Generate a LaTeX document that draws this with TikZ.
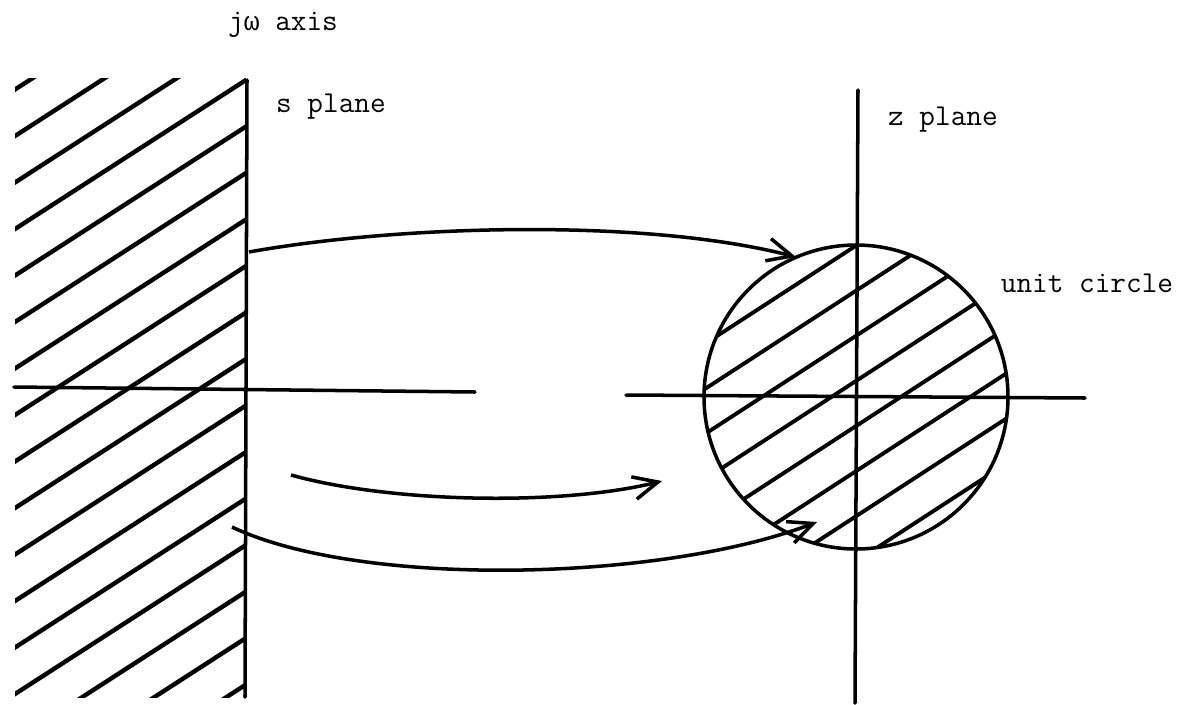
\documentclass[tikz,border=0pt]{standalone}
\usepackage{fontspec}
\newfontfamily\greekmono{Liberation Mono}
\usetikzlibrary{arrows.meta}

\begin{document}
\begin{tikzpicture}[x=0.02cm,y=-0.02cm,
 axis/.style={line width=2pt,line cap=round},
 hatch/.style={line width=2.5pt,line cap=round},
 map/.style={line width=2pt,-{Straight Barb[length=14pt,width=13pt]}},
 lbl/.style={font=\ttfamily\fontsize{17.3}{20}\selectfont,anchor=base,inner sep=0pt}]
\useasboundingbox (0,0) rectangle (1198,704);
\coordinate (jtop) at (247,80);
\coordinate (jbot) at (245,697);
\coordinate (sleft) at (14,387);
\coordinate (sright) at (475,392);
\coordinate (zleft) at (626,395);
\coordinate (zright) at (1085,398);
\coordinate (ztop) at (858,90);
\coordinate (zbot) at (855,703);
\coordinate (ctr) at (856,397);
% left half plane of s
\begin{scope}
\clip (15,78) rectangle (246,697);
\foreach \k in {-3,...,13}
 \draw[hatch] (246,80+46.5*\k) -- ++(-400,258);
\end{scope}
% inside of unit circle
\begin{scope}
\clip (ctr) circle [radius=152];
\foreach \k in {0,...,7}
 \draw[hatch,line width=2.2pt] (857+300,245+45.1*\k-195) -- ++(-600,390);
\end{scope}
\draw[axis] (jtop) -- (jbot);
\draw[axis] (sleft) -- (sright);
\draw[axis] (zleft) -- (zright);
\draw[axis] (ztop) -- (zbot);
\draw[axis] (ctr) circle [radius=152];
\node[lbl] (jw) at (283,30) {j{\greekmono\fontsize{15}{18}\selectfont ω} axis};
\node[lbl] (splane) at (331,112) {s plane};
\node[lbl] (zplane) at (943,125) {z plane};
\node[lbl] (ucirc) at (1087,292) {unit circle};
\coordinate (up0) at (249,252);
\coordinate (up1) at (796,257);
\coordinate (mid0) at (291,475);
\coordinate (mid1) at (662,481);
\coordinate (lo0) at (232,527);
\coordinate (lo1) at (817,522);
\draw[map] (up0) .. controls (399,225) and (646,218) .. (up1);
\draw[map] (mid0) .. controls (391,503) and (562,506) .. (mid1);
\draw[map] (lo0) .. controls (360,588) and (660,582) .. (lo1);
\end{tikzpicture}
\end{document}
